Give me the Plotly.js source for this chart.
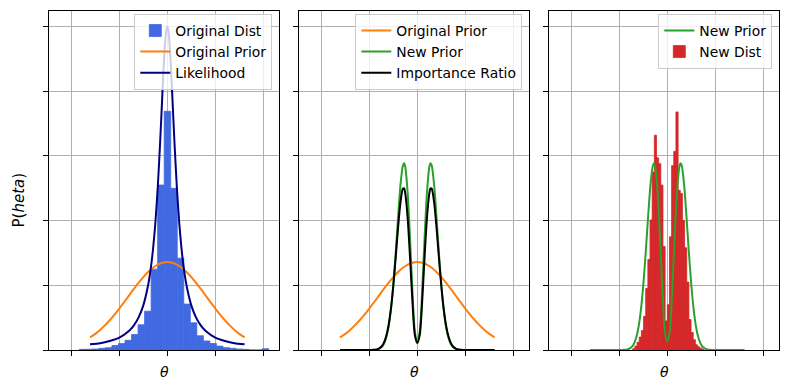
<!DOCTYPE html>
<html>
<head>
<meta charset="utf-8">
<script src="https://cdn.plot.ly/plotly-3.0.1.min.js"></script>
<style>html,body{margin:0;padding:0;background:#fff}#plot{width:789px;height:390px}</style>
</head>
<body>
<div id="plot"></div>
<script>
// ---- Data (theta units: one x tick = 1) ----
// Panel 1: "Original Dist" histogram (bin centres, heights), bin width
const origBinCenters = [-1.766,-1.630,-1.494,-1.358,-1.221,-1.085,-0.949,-0.813,-0.677,-0.541,-0.405,-0.269,-0.133,0.003,0.139,0.275,0.411,0.547,0.683,0.819,0.955,1.091,1.227,1.363,1.499,1.635,1.771,1.908,2.044];
const origHeights    = [0.010,0.012,0.015,0.026,0.036,0.070,0.100,0.150,0.240,0.390,0.600,1.250,2.550,3.690,2.500,1.420,0.710,0.420,0.220,0.140,0.100,0.060,0.036,0.026,0.015,0.010,0,0,0.020];
const origBinWidth = 0.136;

// Original Prior curve
const priorTheta = [-1.61,-1.5,-1.4,-1.3,-1.2,-1.1,-1.0,-0.9,-0.8,-0.7,-0.6,-0.5,-0.4,-0.3,-0.2,-0.1,0,0.1,0.2,0.3,0.4,0.5,0.6,0.7,0.8,0.9,1.0,1.1,1.2,1.3,1.4,1.5,1.61];
const priorVals  = [0.194,0.250,0.311,0.381,0.460,0.547,0.641,0.739,0.840,0.940,1.037,1.127,1.206,1.271,1.320,1.350,1.360,1.350,1.320,1.271,1.206,1.127,1.037,0.940,0.840,0.739,0.641,0.547,0.460,0.381,0.311,0.250,0.194];

// Likelihood curve
const likeTheta = [-1.61,-1.4,-1.2,-1.0,-0.8,-0.7,-0.6,-0.5,-0.4,-0.35,-0.3,-0.25,-0.2,-0.15,-0.125,-0.1,-0.075,-0.05,-0.025,0,0.025,0.05,0.075,0.1,0.125,0.15,0.2,0.25,0.3,0.35,0.4,0.5,0.6,0.7,0.8,1.0,1.2,1.4,1.61];
const likeVals  = [0.088,0.105,0.140,0.192,0.294,0.377,0.500,0.690,1.000,1.231,1.538,1.951,2.500,3.200,3.595,4.000,4.384,4.706,4.923,5.000,4.923,4.706,4.384,4.000,3.595,3.200,2.500,1.951,1.538,1.231,1.000,0.690,0.500,0.377,0.294,0.192,0.140,0.105,0.088];

// Panel 2/3: New Prior and Importance Ratio curves
const newTheta = [-1.61,-1.0,-0.95,-0.9,-0.85,-0.8,-0.75,-0.7,-0.65,-0.6,-0.55,-0.5,-0.45,-0.4,-0.35,-0.3,-0.275,-0.25,-0.2,-0.15,-0.1,-0.05,0,0.05,0.1,0.15,0.2,0.25,0.275,0.3,0.35,0.4,0.45,0.5,0.55,0.6,0.65,0.7,0.75,0.8,0.85,0.9,0.95,1.0,1.61];
const newPriorVals = [0,0,0.001,0.002,0.006,0.017,0.041,0.090,0.185,0.352,0.620,1.008,1.506,2.058,2.555,2.853,2.886,2.824,2.416,1.702,0.889,0.280,0.128,0.280,0.889,1.702,2.416,2.824,2.886,2.853,2.555,2.058,1.506,1.008,0.620,0.352,0.185,0.090,0.041,0.017,0.006,0.002,0.001,0,0];
const ratioVals    = [0,0,0,0.003,0.009,0.022,0.050,0.106,0.208,0.377,0.635,0.993,1.431,1.895,2.287,2.492,2.497,2.416,2.032,1.413,0.731,0.229,0.110,0.229,0.731,1.413,2.032,2.416,2.497,2.492,2.287,1.895,1.431,0.993,0.635,0.377,0.208,0.106,0.050,0.022,0.009,0.003,0,0,0];

// Panel 3: "New Dist" histogram
const newBinCenters = [-0.6975,-0.6525,-0.6075,-0.5625,-0.5175,-0.4725,-0.4275,-0.3825,-0.3375,-0.2925,-0.2475,-0.2025,-0.1575,-0.1125,-0.0675,-0.0225,0.0225,0.0675,0.1125,0.1575,0.2025,0.2475,0.2925,0.3375,0.3825,0.4275,0.4725,0.5175,0.5625,0.6075,0.6525,0.6975,0.7425];
const newHeights    = [0.02,0.06,0.12,0.20,0.30,0.52,0.95,1.40,2.01,2.75,3.32,2.97,2.88,2.55,1.60,0.45,0.70,1.75,2.85,3.07,3.68,2.47,2.42,2.00,1.58,1.05,0.47,0.27,0.16,0.08,0.05,0.03,0.01];
const newBinWidth = 0.045;

// Axis ticks (no labels shown)
const xTicks = [-2,-1,0,1,2];
const yTicks = [0,1,2,3,4,5];

// ---- Plot ----
const FONT = 'DejaVu Sans';
const C = {blue:'#4169e1', orange:'#ff7f0e', navy:'#000080', green:'#2ca02c', black:'#000000', red:'#d62728'};
const lw = 2;

const traces = [
  {type:'bar', x:origBinCenters, y:origHeights, width:origBinWidth, name:'Original Dist',
   marker:{color:C.blue, line:{width:0.8, color:C.blue}}, xaxis:'x', yaxis:'y', legend:'legend'},
  {type:'scatter', mode:'lines', x:priorTheta, y:priorVals, name:'Original Prior',
   line:{color:C.orange, width:lw, shape:'spline'}, xaxis:'x', yaxis:'y', legend:'legend'},
  {type:'scatter', mode:'lines', x:likeTheta, y:likeVals, name:'Likelihood',
   line:{color:C.navy, width:lw, shape:'spline', smoothing:0.6}, xaxis:'x', yaxis:'y', legend:'legend'},

  {type:'scatter', mode:'lines', x:priorTheta, y:priorVals, name:'Original Prior',
   line:{color:C.orange, width:lw, shape:'spline'}, xaxis:'x2', yaxis:'y2', legend:'legend2'},
  {type:'scatter', mode:'lines', x:newTheta, y:newPriorVals, name:'New Prior',
   line:{color:C.green, width:lw, shape:'spline', smoothing:0.8}, xaxis:'x2', yaxis:'y2', legend:'legend2'},
  {type:'scatter', mode:'lines', x:newTheta, y:ratioVals, name:'Importance Ratio',
   line:{color:C.black, width:lw, shape:'spline', smoothing:0.8}, xaxis:'x2', yaxis:'y2', legend:'legend2'},

  {type:'scatter', mode:'lines', x:newTheta, y:newPriorVals, name:'New Prior',
   line:{color:C.green, width:lw, shape:'spline', smoothing:0.8}, xaxis:'x3', yaxis:'y3', legend:'legend3'},
  {type:'bar', x:newBinCenters, y:newHeights, width:newBinWidth, name:'New Dist',
   marker:{color:C.red, line:{width:0.8, color:C.red}}, xaxis:'x3', yaxis:'y3', legend:'legend3'}
];

const W = 789, H = 390;
const xDom = [[49.3/W, 279.3/W],[299.3/W, 529.3/W],[549.3/W, 779.3/W]];
const yDom = [1-350/H, 1-10.7/H];

function xax(i){
  return {domain:xDom[i], anchor:'y'+(i?i+1:''), range:[-2.458,2.333], tickvals:xTicks,
    showticklabels:false, ticks:'outside', ticklen:5, tickwidth:1, tickcolor:'#000',
    showline:true, linecolor:'#000', linewidth:1, mirror:true,
    showgrid:true, gridcolor:'#b0b0b0', gridwidth:1, zeroline:false, layer:'above traces',
    title:{text:'<i>θ</i>', font:{family:FONT, size:14, color:'#000'}, standoff:12}};
}
function yax(i){
  return {domain:yDom, anchor:'x'+(i?i+1:''), range:[0,5.245], tickvals:yTicks,
    showticklabels:false, ticks:'outside', ticklen:5, tickwidth:1, tickcolor:'#000',
    showline:true, linecolor:'#000', linewidth:1, mirror:true,
    showgrid:true, gridcolor:'#b0b0b0', gridwidth:1, zeroline:false, layer:'above traces'};
}
function leg(xr){
  return {x:xr/W, xanchor:'right', y:1-14/H, yanchor:'top', bgcolor:'rgba(255,255,255,0.8)',
    bordercolor:'#cccccc', borderwidth:1, font:{family:FONT, size:13.9, color:'#000'}, traceorder:'normal'};
}

const layout = {
  width:W, height:H, margin:{l:0,r:0,t:0,b:0}, paper_bgcolor:'#fff', plot_bgcolor:'#fff',
  font:{family:FONT, size:13.9, color:'#000'}, showlegend:true, barmode:'overlay',
  xaxis:xax(0), xaxis2:xax(1), xaxis3:xax(2),
  yaxis:yax(0), yaxis2:yax(1), yaxis3:yax(2),
  legend:leg(272.3), legend2:leg(522.3), legend3:leg(772.3),
  annotations:[{text:'P(<i>heta</i>)', textangle:-90, xref:'paper', yref:'paper',
    x:18.5/W, y:1-200/H, xanchor:'center', yanchor:'middle', showarrow:false,
    font:{family:FONT, size:15, color:'#000'}}]
};

Plotly.newPlot('plot', traces, layout, {displayModeBar:false, staticPlot:true});
</script>
</body>
</html>
